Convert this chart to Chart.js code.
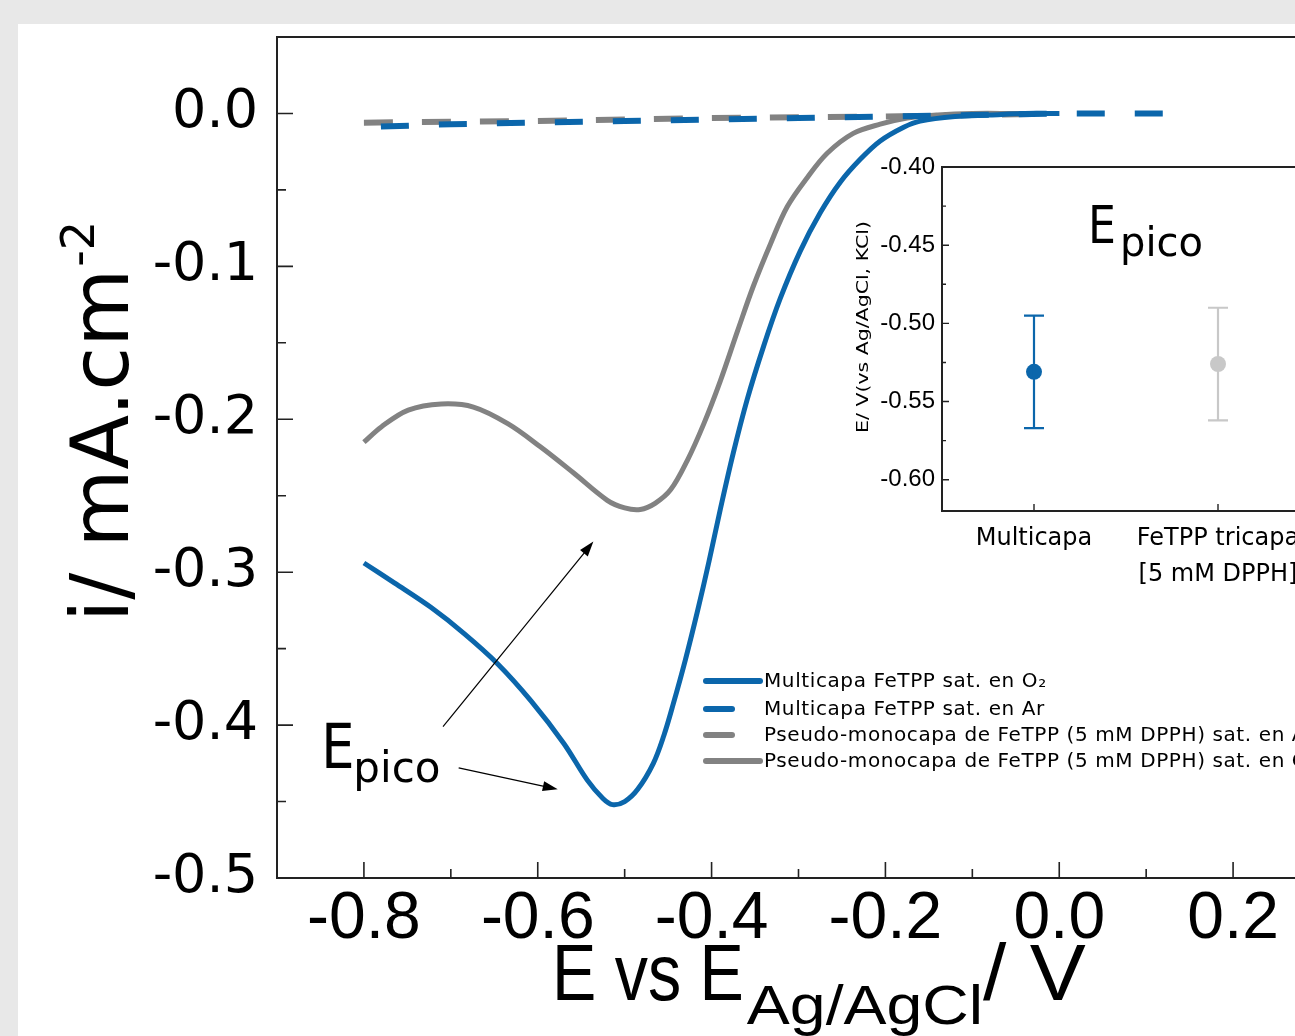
<!DOCTYPE html>
<html>
<head>
<meta charset="utf-8">
<script src="https://cdn.jsdelivr.net/npm/chart.js@4.4.1/dist/chart.umd.min.js"></script>
<style>
  html, body { margin: 0; padding: 0; overflow: hidden; background: #e8e8e8; width: 1295px; height: 1036px; }
  #panel { position: absolute; left: 18px; top: 24px; width: 1400px; height: 1100px; background: #fff; }
  #main { position: absolute; left: 0; top: 0; width: 1340px; height: 1036px; }
  #inset { position: absolute; left: 840px; top: 150px; width: 500px; height: 450px; }
</style>
</head>
<body>
<div id="panel"></div>
<canvas id="main" width="1340" height="1036"></canvas>
<canvas id="inset" width="500" height="450"></canvas>
<script>
// --- main panel data (E in V, i in mA/cm2) ---
const eMultiO2 = [-0.80, -0.765, -0.723, -0.685, -0.646, -0.608, -0.570, -0.543, -0.525, -0.514, -0.500, -0.485, -0.467, -0.455, -0.444, -0.430, -0.416, -0.403, -0.390, -0.375, -0.359, -0.340, -0.321, -0.298, -0.275, -0.252, -0.229, -0.206, -0.179, -0.160, -0.12, -0.08, -0.04, 0.0];
const iMultiO2 = [-0.294, -0.307, -0.323, -0.340, -0.360, -0.384, -0.412, -0.436, -0.448, -0.452, -0.450, -0.442, -0.425, -0.407, -0.386, -0.357, -0.325, -0.293, -0.259, -0.222, -0.187, -0.152, -0.121, -0.090, -0.065, -0.045, -0.030, -0.018, -0.009, -0.005, -0.002, -0.001, 0.0, 0.0];

const eMultiAr = [-0.80, -0.70, -0.60, -0.50, -0.40, -0.30, -0.20, -0.10, 0.0, 0.15];
const iMultiAr = [-0.009, -0.007, -0.006, -0.005, -0.004, -0.003, -0.002, -0.001, 0.0, 0.0];

const ePseudoAr = [-0.80, -0.60, -0.40, -0.20, -0.10, 0.0];
const iPseudoAr = [-0.006, -0.005, -0.003, -0.002, -0.001, 0.0];

const ePseudoO2 = [-0.80, -0.780, -0.749, -0.711, -0.674, -0.634, -0.597, -0.559, -0.520, -0.500, -0.482, -0.465, -0.447, -0.428, -0.409, -0.390, -0.370, -0.352, -0.332, -0.313, -0.290, -0.267, -0.237, -0.206, -0.175, -0.14, -0.10, -0.05, 0.0];
const iPseudoO2 = [-0.215, -0.205, -0.194, -0.190, -0.192, -0.203, -0.218, -0.235, -0.253, -0.258, -0.259, -0.255, -0.246, -0.227, -0.203, -0.175, -0.142, -0.113, -0.085, -0.061, -0.042, -0.026, -0.013, -0.007, -0.003, -0.001, 0.0, 0.0, 0.0];

const mainXTicks = [-0.8, -0.6, -0.4, -0.2, 0.0, 0.2];
const mainYTicks = [-0.5, -0.4, -0.3, -0.2, -0.1, 0.0];

const legendLabels = [
  "Multicapa FeTPP sat. en O\u2082",
  "Multicapa FeTPP sat. en Ar",
  "Pseudo-monocapa de FeTPP (5 mM DPPH) sat. en Ar",
  "Pseudo-monocapa de FeTPP (5 mM DPPH) sat. en O\u2082"
];

// arrows for the "Epico" note, in data units [x0, y0, x1, y1]
const arrowTop = [-0.709, -0.401, -0.536, -0.280];
const arrowBottom = [-0.691, -0.428, -0.577, -0.442];
const epicoAt = [-0.849, -0.428];

// --- inset data ---
const insetCats = ["Multicapa", ["FeTPP tricapa", "[5 mM DPPH]"]];
const insetMeans = [-0.531, -0.526];
const insetErrs = [0.036, 0.036];
const insetYTicks = [-0.60, -0.55, -0.50, -0.45, -0.40];

const BLUE = "#0b66ab";
const GRAY = "#828282";
const LIGHT = "#c8c8c8";
const AXIS = "#222";

function pts(xs, ys) {
  return xs.map((x, k) => ({ x: x, y: ys[k] }));
}

function mids(vals) {
  const out = [];
  for (let k = 0; k < vals.length - 1; k++) out.push((vals[k] + vals[k + 1]) / 2);
  return out;
}

function arrow(ctx, x0, y0, x1, y1) {
  const a = Math.atan2(y1 - y0, x1 - x0);
  ctx.beginPath();
  ctx.moveTo(x0, y0);
  ctx.lineTo(x1 - 8 * Math.cos(a), y1 - 8 * Math.sin(a));
  ctx.stroke();
  ctx.beginPath();
  ctx.moveTo(x1, y1);
  ctx.lineTo(x1 - 15 * Math.cos(a) + 5 * Math.sin(a), y1 - 15 * Math.sin(a) - 5 * Math.cos(a));
  ctx.lineTo(x1 - 15 * Math.cos(a) - 5 * Math.sin(a), y1 - 15 * Math.sin(a) + 5 * Math.cos(a));
  ctx.closePath();
  ctx.fill();
}

function noPad(s) {
  s.paddingTop = 0; s.paddingBottom = 0; s.paddingLeft = 0; s.paddingRight = 0;
}

const mainDecor = {
  id: "mainDecor",
  afterDraw(chart) {
    const ctx = chart.ctx;
    const a = chart.chartArea;
    const xs = chart.scales.x, ys = chart.scales.y;
    ctx.save();

    // frame
    ctx.strokeStyle = AXIS;
    ctx.lineWidth = 2;
    ctx.beginPath();
    ctx.moveTo(a.right, a.top);
    ctx.lineTo(a.left, a.top);
    ctx.lineTo(a.left, a.bottom);
    ctx.lineTo(a.right, a.bottom);
    ctx.stroke();

    // inward ticks
    ctx.lineWidth = 1.6;
    ctx.beginPath();
    mainXTicks.forEach(v => { const p = xs.getPixelForValue(v); ctx.moveTo(p, a.bottom); ctx.lineTo(p, a.bottom - 16); });
    mids(mainXTicks).forEach(v => { const p = xs.getPixelForValue(v); ctx.moveTo(p, a.bottom); ctx.lineTo(p, a.bottom - 9); });
    mainYTicks.forEach(v => { const p = ys.getPixelForValue(v); ctx.moveTo(a.left, p); ctx.lineTo(a.left + 16, p); });
    mids(mainYTicks).forEach(v => { const p = ys.getPixelForValue(v); ctx.moveTo(a.left, p); ctx.lineTo(a.left + 9, p); });
    ctx.stroke();

    // y title
    ctx.fillStyle = "#000";
    ctx.save();
    ctx.translate(128, 622);
    ctx.rotate(-Math.PI / 2);
    ctx.font = "80px 'DejaVu Sans'";
    ctx.textBaseline = "alphabetic";
    ctx.textAlign = "left";
    const t1 = "i/ mA.cm";
    ctx.fillText(t1, 0, 0);
    const w1 = ctx.measureText(t1).width;
    ctx.font = "46px 'DejaVu Sans'";
    ctx.fillText("-2", w1 + 2, -34);
    ctx.restore();

    // x title
    ctx.save();
    ctx.textBaseline = "alphabetic";
    ctx.textAlign = "left";
    let cx = 552;
    ctx.font = "80px 'Liberation Sans'";
    const p1 = "E vs E";
    ctx.save(); ctx.translate(cx, 1000); ctx.scale(0.83, 1); ctx.fillText(p1, 0, 0); ctx.restore();
    cx += ctx.measureText(p1).width * 0.83 + 3;
    ctx.font = "56px 'Liberation Sans'";
    const p2 = "Ag/AgCl";
    ctx.save(); ctx.translate(cx, 1024); ctx.scale(1.15, 1); ctx.fillText(p2, 0, 0); ctx.restore();
    cx += ctx.measureText(p2).width * 1.15;
    ctx.font = "80px 'Liberation Sans'";
    ctx.save(); ctx.translate(cx, 1000); ctx.scale(1.05, 1); ctx.fillText("/ V", 0, 0); ctx.restore();
    ctx.restore();

    // legend
    const rows = [681, 709, 735, 761];
    const ds = chart.data.datasets;
    ctx.font = "20px 'DejaVu Sans'";
    ctx.letterSpacing = "0.6px";
    ctx.textBaseline = "middle";
    rows.forEach((ry, k) => {
      const d = ds[k];
      ctx.strokeStyle = d.borderColor;
      ctx.lineWidth = 6;
      ctx.lineCap = "round";
      ctx.beginPath();
      ctx.moveTo(706, ry);
      ctx.lineTo(d.borderDash ? 732 : 760, ry);
      ctx.stroke();
      ctx.fillStyle = "#000";
      ctx.fillText(legendLabels[k], 764, ry + 1);
    });
    ctx.letterSpacing = "0px";

    // Epico note + arrows
    ctx.fillStyle = "#000";
    ctx.textBaseline = "alphabetic";
    const ex = xs.getPixelForValue(epicoAt[0]), ey = ys.getPixelForValue(epicoAt[1]);
    ctx.font = "62px 'DejaVu Sans'";
    ctx.save(); ctx.translate(ex, ey); ctx.scale(0.85, 1); ctx.fillText("E", 0, 0); ctx.restore();
    ctx.font = "42px 'DejaVu Sans'";
    ctx.fillText("pico", ex + 32, ey + 14);
    ctx.strokeStyle = "#000";
    ctx.lineWidth = 1.2;
    ctx.lineCap = "butt";
    [arrowTop, arrowBottom].forEach(r => {
      arrow(ctx, xs.getPixelForValue(r[0]), ys.getPixelForValue(r[1]), xs.getPixelForValue(r[2]), ys.getPixelForValue(r[3]));
    });
    ctx.restore();
  }
};

new Chart(document.getElementById("main"), {
  type: "line",
  data: {
    datasets: [
      { label: legendLabels[0], data: pts(eMultiO2, iMultiO2), borderColor: BLUE, borderWidth: 5, tension: 0.35 },
      { label: legendLabels[1], data: pts(eMultiAr, iMultiAr), borderColor: BLUE, borderWidth: 6, borderDash: [28, 30], borderDashOffset: -17 },
      { label: legendLabels[2], data: pts(ePseudoAr, iPseudoAr), borderColor: GRAY, borderWidth: 6, borderDash: [29, 29], borderDashOffset: 0 },
      { label: legendLabels[3], data: pts(ePseudoO2, iPseudoO2), borderColor: GRAY, borderWidth: 5, tension: 0.35 }
    ]
  },
  options: {
    responsive: false,
    animation: false,
    elements: { point: { radius: 0 }, line: { fill: false } },
    layout: { padding: { left: 0, top: 37, right: 20, bottom: 0 } },
    plugins: { legend: { display: false }, tooltip: { enabled: false } },
    scales: {
      x: {
        type: "linear",
        min: -0.9,
        max: 0.3,
        grid: { display: false, drawTicks: false },
        border: { display: false },
        afterBuildTicks: s => { s.ticks = mainXTicks.map(v => ({ value: v })); },
        afterFit: s => { s.height = 158; noPad(s); },
        ticks: {
          padding: 2,
          color: "#000",
          font: { family: "'Liberation Sans'", size: 66 },
          callback: v => v.toFixed(1)
        }
      },
      y: {
        type: "linear",
        min: -0.5,
        max: 0.05,
        grid: { display: false, drawTicks: false },
        border: { display: false },
        afterBuildTicks: s => { s.ticks = mainYTicks.map(v => ({ value: v })); },
        afterFit: s => { s.width = 277; noPad(s); },
        ticks: {
          padding: 19,
          color: "#000",
          font: { family: "'DejaVu Sans'", size: 54 },
          callback: v => v.toFixed(1)
        }
      }
    }
  },
  plugins: [mainDecor]
});

// --- inset ---
const insetDecor = {
  id: "insetDecor",
  afterDatasetsDraw(chart) {
    const ctx = chart.ctx;
    const xs = chart.scales.x, ys = chart.scales.y;
    const cols = chart.data.datasets[0].pointBackgroundColor;
    ctx.save();
    ctx.lineWidth = 2.2;
    insetMeans.forEach((m, k) => {
      const px = xs.getPixelForValue(k);
      const top = ys.getPixelForValue(m + insetErrs[k]);
      const bot = ys.getPixelForValue(m - insetErrs[k]);
      ctx.strokeStyle = cols[k];
      ctx.beginPath();
      ctx.moveTo(px, top); ctx.lineTo(px, bot);
      ctx.moveTo(px - 10, top); ctx.lineTo(px + 10, top);
      ctx.moveTo(px - 10, bot); ctx.lineTo(px + 10, bot);
      ctx.stroke();
    });
    ctx.restore();
  },
  afterDraw(chart) {
    const ctx = chart.ctx;
    const a = chart.chartArea;
    const xs = chart.scales.x, ys = chart.scales.y;
    ctx.save();
    ctx.strokeStyle = AXIS;
    ctx.lineWidth = 2;
    ctx.beginPath();
    ctx.moveTo(a.right + 30, a.top);
    ctx.lineTo(a.left, a.top);
    ctx.lineTo(a.left, a.bottom);
    ctx.lineTo(a.right + 30, a.bottom);
    ctx.stroke();

    ctx.lineWidth = 1.4;
    ctx.beginPath();
    insetYTicks.forEach(v => { const p = ys.getPixelForValue(v); ctx.moveTo(a.left, p); ctx.lineTo(a.left + 7, p); });
    mids(insetYTicks).forEach(v => { const p = ys.getPixelForValue(v); ctx.moveTo(a.left, p); ctx.lineTo(a.left + 4, p); });
    insetMeans.forEach((m, k) => { const p = xs.getPixelForValue(k); ctx.moveTo(p, a.bottom); ctx.lineTo(p, a.bottom - 7); });
    ctx.stroke();

    // y title
    ctx.fillStyle = "#000";
    ctx.save();
    ctx.translate(28, 177);
    ctx.rotate(-Math.PI / 2);
    ctx.scale(1.28, 1);
    ctx.font = "16px 'DejaVu Sans'";
    ctx.textAlign = "center";
    ctx.textBaseline = "alphabetic";
    ctx.fillText("E/ V(vs Ag/AgCl, KCl)", 0, 0);
    ctx.restore();

    // Epico title
    ctx.textAlign = "left";
    ctx.textBaseline = "alphabetic";
    ctx.font = "52px 'DejaVu Sans'";
    ctx.save(); ctx.translate(a.left + 146, a.top + 76); ctx.scale(0.85, 1); ctx.fillText("E", 0, 0); ctx.restore();
    ctx.font = "40px 'DejaVu Sans'";
    ctx.fillText("pico", a.left + 178, a.top + 89);
    ctx.restore();
  }
};

new Chart(document.getElementById("inset"), {
  type: "line",
  data: {
    labels: insetCats,
    datasets: [{
      data: insetMeans,
      showLine: false,
      pointRadius: 8,
      pointBackgroundColor: [BLUE, LIGHT],
      pointBorderColor: [BLUE, LIGHT],
      pointBorderWidth: 0
    }]
  },
  options: {
    responsive: false,
    animation: false,
    layout: { padding: { left: 0, top: 17, right: 30, bottom: 0 } },
    plugins: { legend: { display: false }, tooltip: { enabled: false } },
    scales: {
      x: {
        type: "category",
        offset: true,
        grid: { display: false, drawTicks: false },
        border: { display: false },
        afterFit: s => { s.height = 89; noPad(s); },
        ticks: {
          padding: 10,
          color: "#000",
          maxRotation: 0,
          autoSkip: false,
          font: { family: "'DejaVu Sans'", size: 24, lineHeight: 1.5 }
        }
      },
      y: {
        type: "linear",
        min: -0.62,
        max: -0.40,
        grid: { display: false, drawTicks: false },
        border: { display: false },
        afterBuildTicks: s => { s.ticks = insetYTicks.map(v => ({ value: v })); },
        afterFit: s => { s.width = 102; noPad(s); },
        ticks: {
          padding: 7,
          color: "#000",
          font: { family: "'Liberation Sans'", size: 24 },
          callback: v => v.toFixed(2)
        }
      }
    }
  },
  plugins: [insetDecor]
});
</script>
</body>
</html>
